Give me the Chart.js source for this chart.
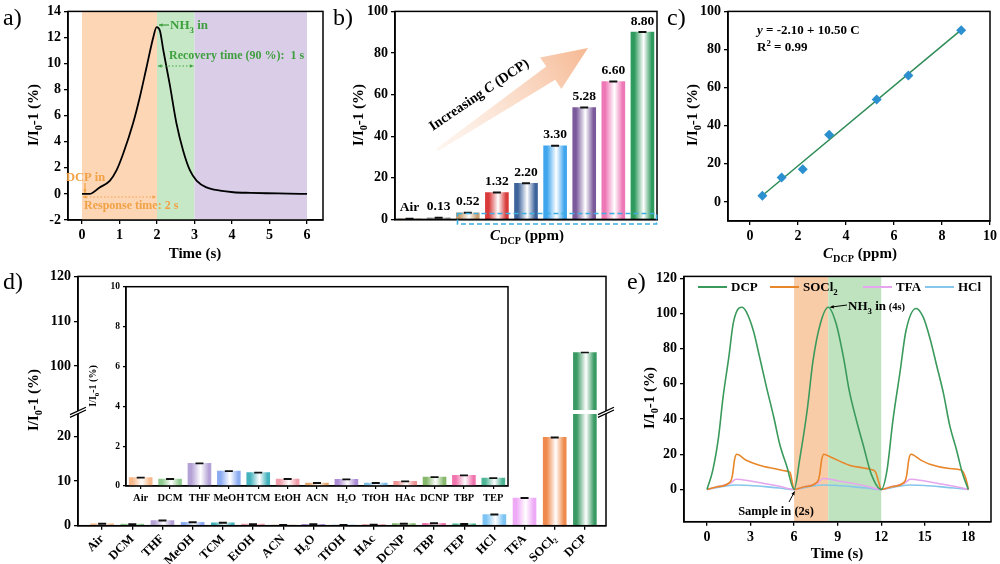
<!DOCTYPE html>
<html>
<head>
<meta charset="utf-8">
<script src="https://cdn.jsdelivr.net/npm/chart.js@4.4.1/dist/chart.umd.min.js"></script>
<style>
body{margin:0;background:#fff;}
#wrap{position:relative;width:1000px;height:564px;overflow:hidden;background:#fff;}
#wrap canvas{position:absolute;}
</style>
</head>
<body>
<div id="wrap"></div>
<script>
// ---- panel a: response / recovery curve
const aTime = [0, 0.2, 0.47, 0.74, 0.92, 1.1, 1.36, 1.54, 1.72, 1.9, 1.99, 2.08, 2.17, 2.34, 2.52, 2.7, 2.88, 3.06, 3.32, 3.68, 4.04, 4.5, 4.93, 5.5, 6];
const aSignal = [0, 0, 0.5, 1.0, 1.8, 3.1, 5.4, 7.4, 9.7, 12.0, 12.8, 12.5, 11.0, 8.4, 5.4, 3.3, 1.8, 1.0, 0.5, 0.25, 0.13, 0.08, 0.05, 0.03, 0];
const aXTicks = [0, 1, 2, 3, 4, 5, 6];
const aYTicks = [-2, 0, 2, 4, 6, 8, 10, 12, 14];
const aZones = [0, 2, 3, 6];
const aZoneColors = ['#fdd6b6', '#c6e8c6', '#d9cde8'];

// ---- panel b: concentration bars
const bLabels = ['Air', '0.13', '0.52', '1.32', '2.20', '3.30', '5.28', '6.60', '8.80'];
const bValues = [0.3, 0.8, 3.2, 12.9, 17.4, 35.4, 53.8, 66.3, 90.1];
const bColors = ['#c9a27e', '#9a9a9a', '#c9a070', '#d93a3a', '#3d639b', '#3fa6ee', '#7b5a9c', '#ee78b6', '#2f9a5e'];
const bYTicks = [0, 20, 40, 60, 80, 100];

// ---- panel c: linear fit
const cConc = [0.52, 1.32, 2.20, 3.30, 5.28, 6.60, 8.80];
const cResp = [3.2, 12.8, 17.1, 35.3, 53.7, 66.3, 90.1];
const cFitX = [0.52, 8.80];
const cFitY = [3.36, 90.30];
const cXTicks = [0, 2, 4, 6, 8, 10];
const cYTicks = [0, 20, 40, 60, 80, 100];

// ---- panel d: selectivity
const dCats = ['Air', 'DCM', 'THF', 'MeOH', 'TCM', 'EtOH', 'ACN', 'H₂O', 'TfOH', 'HAc', 'DCNP', 'TBP', 'TEP', 'HCl', 'TFA', 'SOCl₂', 'DCP'];
const dValues = [0.42, 0.35, 1.14, 0.75, 0.67, 0.35, 0.15, 0.33, 0.15, 0.23, 0.45, 0.53, 0.40, 2.5, 6.2, 19.8, 103.0];
const dColors = ['#f7b98b', '#8fcb8f', '#b4a2d6', '#8cacf2', '#45b3bd', '#f19cab', '#e6a66c', '#ad8cd6', '#7dbde6', '#ee9494', '#86b86c', '#f075ae', '#4db596', '#7cc4f4', '#eeaaf6', '#f08a4c', '#3a9a64'];
const dLowTicks = [0, 10, 20];
const dHighTicks = [100, 110, 120];
const insetCount = 13;
const insetTicks = [0, 2, 4, 6, 8, 10];

// ---- panel e: cycling
const eDcpT = [0, 0.4, 0.8, 1.1, 1.5, 1.8, 2.1, 2.4, 2.7, 3.2, 3.6, 4.1, 4.6, 5.0, 5.5, 6.0,
  6.4, 6.9, 7.3, 7.8, 8.35, 8.9, 9.4, 9.8, 10.3, 10.8, 11.3, 12.0,
  12.4, 12.8, 13.3, 13.7, 14.4, 14.9, 15.35, 15.8, 16.3, 16.7, 17.2, 17.6, 18.0];
const eDcpV = [0, 11, 30, 52, 75, 94, 102, 103.5, 101, 90, 76, 58, 41, 26, 13, 0,
  18, 45, 73, 94, 103.5, 94, 75, 56, 39, 24, 9, 0,
  11, 39, 67, 90, 102.8, 97.7, 86, 71, 54, 37, 22, 9, 0];
const eSoclT = [0, 0.7, 1.6, 1.75, 1.9, 2.05, 2.7, 3.6, 4.6, 5.5, 5.72, 5.85, 6.0,
  6.7, 7.6, 7.75, 7.9, 8.05, 8.5, 9.8, 10.8, 11.3, 11.6, 11.8, 12.0,
  12.7, 13.6, 13.75, 13.9, 14.05, 14.7, 15.35, 16.7, 17.5, 17.75, 17.9, 18.0];
const eSoclV = [0, 1.5, 4.3, 8, 17, 20, 16.6, 13.8, 11.9, 10.4, 9.8, 5, 0,
  1.5, 4.3, 8, 17, 20, 18.5, 13.8, 12.2, 11.3, 10, 5, 0,
  1.5, 4.3, 8, 17, 20, 16.8, 14.3, 11.9, 11, 8, 4, 0];
const eTfaT = [0, 0.8, 1.6, 2.0, 3.0, 4.0, 5.0, 6.0, 6.8, 7.6, 8.0, 9.0, 10.0, 11.0, 12.0, 12.8, 13.6, 14.0, 15.0, 16.0, 17.0, 18.0];
const eTfaV = [0, 1.8, 3.5, 5.8, 4.8, 3.3, 1.8, 0, 1.8, 3.5, 6.2, 5.0, 3.5, 1.8, 0, 1.8, 3.5, 5.8, 4.8, 3.3, 1.8, 0];
const eHclT = [0, 1, 2, 3, 4, 5, 6, 7, 8, 9, 10, 11, 12, 13, 14, 15, 16, 17, 18];
const eHclV = [0, 1.5, 2.5, 2.3, 1.6, 0.8, 0, 1.5, 2.5, 2.3, 1.6, 0.8, 0, 1.5, 2.5, 2.3, 1.6, 0.8, 0];
const eNames = ['DCP', 'SOCl₂', 'TFA', 'HCl'];
const eColors = ['#3a9a5c', '#e8862a', '#e6a6ee', '#86c6ea'];
const eXTicks = [0, 3, 6, 9, 12, 15, 18];
const eYTicks = [0, 20, 40, 60, 80, 100, 120];
const eZones = [6, 8.35, 12];
const eZoneColors = ['#f9cca8', '#bfe3bf'];

const FONT = '"Liberation Serif", "Times New Roman", serif';
Chart.defaults.font.family = FONT;
Chart.defaults.font.size = 14;
Chart.defaults.font.weight = 'bold';
Chart.defaults.color = '#000';
Chart.defaults.animation = false;
Chart.defaults.events = [];
Chart.defaults.plugins.legend.display = false;
Chart.defaults.plugins.tooltip.enabled = false;

function mk(L, T, W, H) {
  const c = document.createElement('canvas');
  c.width = W; c.height = H;
  c.style.left = L + 'px'; c.style.top = T + 'px';
  c.style.width = W + 'px'; c.style.height = H + 'px';
  document.getElementById('wrap').appendChild(c);
  return c;
}

function pts(xs, ys) {
  return xs.map((x, i) => ({x: x, y: ys[i]}));
}

function lin(min, max, ticks, fit, extra) {
  return Object.assign({
    type: 'linear', min: min, max: max,
    afterBuildTicks: s => { s.ticks = ticks.map(v => ({value: v})); },
    afterFit: fit,
    ticks: {padding: 3, autoSkip: false, maxRotation: 0},
    grid: {drawOnChartArea: false, tickLength: 4, color: '#000', lineWidth: 1.3},
    border: {color: '#000', width: 1.5}
  }, extra || {});
}

// text with sub/superscripts, y = vertical middle
function rich(c, parts, x, y, size, opt) {
  opt = opt || {};
  c.save();
  c.translate(x, y);
  if (opt.rot) c.rotate(opt.rot);
  c.fillStyle = opt.color || '#000';
  c.textAlign = 'left';
  c.textBaseline = 'alphabetic';
  const fontOf = p => (p.i ? 'italic ' : '') + (p.n ? 'normal ' : 'bold ') +
    (p.sub || p.sup ? size * 0.68 : (p.size || size)) + 'px ' + FONT;
  let w = 0;
  parts.forEach(p => { c.font = fontOf(p); w += c.measureText(p.t).width; });
  let cx = opt.align === 'center' ? -w / 2 : opt.align === 'right' ? -w : 0;
  parts.forEach(p => {
    c.font = fontOf(p);
    const dy = p.sub ? size * 0.28 : p.sup ? -size * 0.38 : 0;
    c.fillText(p.t, cx, size * 0.34 + dy);
    cx += c.measureText(p.t).width;
  });
  c.restore();
}

function arrow(c, x1, y1, x2, y2, col, opt) {
  opt = opt || {};
  c.save();
  c.strokeStyle = col; c.fillStyle = col; c.lineWidth = opt.w || 1.2;
  if (opt.dash) c.setLineDash(opt.dash);
  c.beginPath(); c.moveTo(x1, y1); c.lineTo(x2, y2); c.stroke();
  c.setLineDash([]);
  const h = opt.h || 5;
  const head = (xa, ya, xb, yb) => {
    const ang = Math.atan2(yb - ya, xb - xa);
    c.beginPath();
    c.moveTo(xb, yb);
    c.lineTo(xb - h * Math.cos(ang - 0.45), yb - h * Math.sin(ang - 0.45));
    c.lineTo(xb - h * Math.cos(ang + 0.45), yb - h * Math.sin(ang + 0.45));
    c.closePath(); c.fill();
  };
  head(x1, y1, x2, y2);
  if (opt.both) head(x2, y2, x1, y1);
  c.restore();
}

const YT = [{t: 'I/I'}, {t: '0', sub: 1}, {t: '-1 (%)'}];
const CT = [{t: 'C', i: 1}, {t: 'DCP', sub: 1}, {t: ' (ppm)'}];

function grad(colors, width) {
  return ctx => {
    const ch = ctx.chart, xs = ch.scales.x;
    const i = (ctx.raw && typeof ctx.raw === 'object') ? ctx.raw.x : ctx.dataIndex;
    const col = colors[i] || colors[0];
    if (!xs || i === undefined) return col;
    const cx = xs.getPixelForValue(i);
    if (!isFinite(cx)) return col;
    const g = ch.ctx.createLinearGradient(cx - width / 2, 0, cx + width / 2, 0);
    g.addColorStop(0, col);
    g.addColorStop(0.15, col);
    g.addColorStop(0.55, '#ffffff');
    g.addColorStop(0.9, col);
    g.addColorStop(1, col);
    return g;
  };
}

const frame = {
  id: 'frame',
  afterDatasetsDraw(ch) {
    const a = ch.chartArea, c = ch.ctx;
    c.save();
    c.strokeStyle = '#000'; c.lineWidth = 1.5;
    c.strokeRect(a.left, a.top, a.right - a.left, a.bottom - a.top);
    c.restore();
  }
};

function zones(id, bounds, colors) {
  return {
    id: id,
    beforeDatasetsDraw(ch) {
      const a = ch.chartArea, c = ch.ctx, xs = ch.scales.x;
      c.save();
      for (let k = 0; k < colors.length; k++) {
        const x1 = xs.getPixelForValue(bounds[k]), x2 = xs.getPixelForValue(bounds[k + 1]);
        c.fillStyle = colors[k];
        c.fillRect(x1, a.top, x2 - x1, a.bottom - a.top);
      }
      c.restore();
    }
  };
}

// ================= panel a
const annotA = {
  id: 'annotA',
  afterDatasetsDraw(ch) {
    const c = ch.ctx, xs = ch.scales.x, ys = ch.scales.y;
    const green = '#3f9f3f', orange = '#f2a246';
    arrow(c, 169, 25, xs.getPixelForValue(2) + 2, 25, green, {h: 4});
    rich(c, [{t: 'NH'}, {t: '3', sub: 1}, {t: ' in'}], 170, 25, 13, {color: green});
    rich(c, [{t: 'Recovery time (90 %):  1 s'}], 169, 55, 12, {color: green});
    arrow(c, xs.getPixelForValue(2) + 1, 66, xs.getPixelForValue(3) - 1, 66, green, {dash: [1.5, 2], both: true, h: 4});
    rich(c, [{t: 'DCP in'}], 66, 177, 12.5, {color: orange});
    arrow(c, 85, 183, 85, ys.getPixelForValue(0) - 1, orange, {h: 4});
    arrow(c, xs.getPixelForValue(0) + 1, 197, xs.getPixelForValue(2) - 1, 197, orange, {dash: [1.5, 2], both: true, h: 4});
    rich(c, [{t: 'Response time: 2 s'}], 84, 205, 12, {color: orange});
    rich(c, [{t: 'Time (s)'}], 195, 253, 15, {align: 'center'});
    rich(c, YT, 33, 115, 15, {align: 'center', rot: -Math.PI / 2});
    rich(c, [{t: 'a)', n: 1}], 3, 17, 24);
  }
};

new Chart(mk(0, 0, 330, 265), {
  type: 'line',
  data: {datasets: [{
    data: pts(aTime, aSignal), borderColor: '#000', borderWidth: 1.8,
    pointRadius: 0, cubicInterpolationMode: 'monotone', fill: false
  }]},
  options: {
    responsive: false,
    layout: {padding: {top: 10, right: 7, left: 0, bottom: 0}},
    scales: {
      x: lin(-0.373, 6.427, aXTicks, s => { s.height = 45; }),
      y: lin(-2, 14, aYTicks, s => { s.width = 68; })
    }
  },
  plugins: [zones('zonesA', aZones, aZoneColors), frame, annotA]
});

// ================= panel b
const annotB = {
  id: 'annotB',
  afterDatasetsDraw(ch) {
    const c = ch.ctx, meta = ch.getDatasetMeta(0);
    meta.data.forEach((bar, i) => {
      rich(c, [{t: bLabels[i]}], bar.x, bar.y - 12, 13.5, {align: 'center'});
    });
    // dashed box around the low bars
    c.save();
    c.strokeStyle = '#3aaee0'; c.lineWidth = 1.6; c.setLineDash([5, 3]);
    c.strokeRect(127.5, 213.5, 199, 10.5);
    c.restore();
    // big arrow
    const tail = [107, 150], tip = [258, 48];
    const dx = tip[0] - tail[0], dy = tip[1] - tail[1], L = Math.hypot(dx, dy);
    const u = [dx / L, dy / L], n = [-u[1], u[0]];
    const hb = [tip[0] - u[0] * 45, tip[1] - u[1] * 45];
    const P = (p, k) => [p[0] + n[0] * k, p[1] + n[1] * k];
    const poly = [P(tail, 1.5), P(hb, 8), P(hb, 19), tip, P(hb, -19), P(hb, -8), P(tail, -1.5)];
    c.save();
    const g = c.createLinearGradient(tail[0], tail[1], tip[0], tip[1]);
    g.addColorStop(0, 'rgba(252,232,218,0.4)');
    g.addColorStop(1, '#f6b892');
    c.fillStyle = g;
    c.beginPath();
    poly.forEach((p, k) => k ? c.lineTo(p[0], p[1]) : c.moveTo(p[0], p[1]));
    c.closePath(); c.fill();
    c.restore();
    rich(c, [{t: 'Increasing '}, {t: 'C', i: 1}, {t: ' (DCP)'}], 100, 127, 14, {rot: Math.atan2(dy, dx)});
    rich(c, CT, 197, 235, 15, {align: 'center'});
    rich(c, YT, 28, 115, 15, {align: 'center', rot: -Math.PI / 2});
    rich(c, [{t: 'b)', n: 1}], 3, 17, 24);
  }
};

new Chart(mk(330, 0, 335, 265), {
  type: 'bar',
  data: {
    labels: bLabels,
    datasets: [
      {data: bValues, backgroundColor: grad(bColors, 23), barThickness: 23, borderWidth: 0, order: 2},
      {type: 'scatter', data: bValues, pointStyle: 'line', pointRadius: 4, borderColor: '#111', borderWidth: 2, order: 1}
    ]
  },
  options: {
    responsive: false,
    layout: {padding: {top: 10, right: 8, left: 0, bottom: 0}},
    scales: {
      x: {
        type: 'category', offset: true,
        afterFit: s => { s.height = 45.6; },
        ticks: {display: false},
        grid: {display: false},
        border: {color: '#000', width: 1.5}
      },
      y: lin(0, 100, bYTicks, s => { s.width = 65; })
    }
  },
  plugins: [frame, annotB]
});

// ================= panel c
const annotC = {
  id: 'annotC',
  afterDatasetsDraw(ch) {
    const c = ch.ctx;
    rich(c, [{t: 'y', i: 1}, {t: ' = -2.10 + 10.50 C'}], 92, 30, 13);
    rich(c, [{t: 'R'}, {t: '2', sup: 1}, {t: ' = 0.99'}], 92, 47, 13);
    rich(c, CT, 195, 253, 15, {align: 'center'});
    rich(c, YT, 27, 115, 15, {align: 'center', rot: -Math.PI / 2});
    rich(c, [{t: 'c)', n: 1}], 2, 17, 24);
  }
};

new Chart(mk(665, 0, 335, 265), {
  type: 'scatter',
  data: {datasets: [
    {data: pts(cConc, cResp), pointStyle: 'rectRot', pointRadius: 5, backgroundColor: '#2b8fd0', borderWidth: 0, order: 1},
    {type: 'line', data: pts(cFitX, cFitY), borderColor: '#2e8b57', borderWidth: 1.5, pointRadius: 0, fill: false, order: 2}
  ]},
  options: {
    responsive: false,
    layout: {padding: {top: 10, right: 9, left: 0, bottom: 0}},
    scales: {
      x: lin(-0.913, 10, cXTicks, s => { s.height = 44; }),
      y: lin(-10, 100, cYTicks, s => { s.width = 63; })
    }
  },
  plugins: [frame, annotC]
});

// ================= panel d
const dLowMax = 25.5, dHighMin = 89.7;
const annotD = {
  id: 'annotD',
  afterDraw(ch) {
    const c = ch.ctx, a = ch.chartArea;
    const yb = ch.scales.y.getPixelForValue(dLowMax);
    c.save();
    [a.left, a.right].forEach(x0 => {
      c.fillStyle = '#fff';
      c.beginPath();
      c.moveTo(x0 - 8, yb + 2.6); c.lineTo(x0 + 8, yb - 4.8);
      c.lineTo(x0 + 8, yb - 2); c.lineTo(x0 - 8, yb + 5.4);
      c.closePath(); c.fill();
      c.strokeStyle = '#000'; c.lineWidth = 1.3;
      c.beginPath();
      c.moveTo(x0 - 8, yb + 2.6); c.lineTo(x0 + 8, yb - 4.8);
      c.moveTo(x0 - 8, yb + 5.4); c.lineTo(x0 + 8, yb - 2);
      c.stroke();
    });
    c.restore();
    rich(c, YT, 33, 135, 15, {align: 'center', rot: -Math.PI / 2});
    rich(c, [{t: 'd)', n: 1}], 3, 16, 24);
  }
};

const dLow = dValues.map((v, i) => ({x: i, y: Math.min(v, dLowMax - 0.5)}));
const dHigh = [];
dValues.forEach((v, i) => { if (v > dLowMax) dHigh.push({x: i, y: [dHighMin + 0.5, v]}); });
const dCapLow = [];
const dCapHigh = [];
dValues.forEach((v, i) => { (v > dLowMax ? dCapHigh : dCapLow).push({x: i, y: v}); });

new Chart(mk(0, 265, 620, 299), {
  type: 'bar',
  data: {datasets: [
    {data: dLow, yAxisID: 'y', backgroundColor: grad(dColors, 23), barThickness: 23, grouped: false, borderWidth: 0, order: 3},
    {data: dHigh, yAxisID: 'y2', backgroundColor: grad(dColors, 23), barThickness: 23, grouped: false, borderWidth: 0, order: 3},
    {type: 'scatter', data: dCapLow, yAxisID: 'y', pointStyle: 'line', pointRadius: 4, borderColor: '#111', borderWidth: 2, order: 1},
    {type: 'scatter', data: dCapHigh, yAxisID: 'y2', pointStyle: 'line', pointRadius: 4, borderColor: '#111', borderWidth: 1.5, order: 1}
  ]},
  options: {
    responsive: false,
    layout: {padding: {top: 10.7, right: 14, left: 0, bottom: 0}},
    scales: {
      x: lin(-0.8, 16.7, dCats.map((_, i) => i), s => { s.height = 38.3; }, {
        offset: false,
        ticks: {callback: v => dCats[v], minRotation: 45, maxRotation: 45, autoSkip: false, padding: 2, font: {size: 12.5}},
        grid: {drawOnChartArea: false, offset: false, tickLength: 4, color: '#000', lineWidth: 1.3}
      }),
      y: lin(0, dLowMax, dLowTicks, s => { s.width = 78; }, {stack: 'd', stackWeight: 114, position: 'left'}),
      y2: lin(dHighMin, 120, dHighTicks, s => { s.width = 78; }, {stack: 'd', stackWeight: 136, position: 'left'})
    }
  },
  plugins: [frame, annotD]
});

// inset of panel d
const annotInset = {
  id: 'annotInset',
  afterDatasetsDraw(ch) {
    rich(ch.ctx, YT, 13, 110, 10, {align: 'center', rot: -Math.PI / 2});
  }
};

new Chart(mk(80, 276, 440, 236), {
  type: 'bar',
  data: {
    labels: dCats.slice(0, insetCount),
    datasets: [
      {data: dValues.slice(0, insetCount), backgroundColor: grad(dColors, 23), barThickness: 23, borderWidth: 0, order: 2},
      {type: 'scatter', data: dValues.slice(0, insetCount), pointStyle: 'line', pointRadius: 4, borderColor: '#111', borderWidth: 1.8, order: 1}
    ]
  },
  options: {
    responsive: false,
    layout: {padding: {top: 10.7, right: 12, left: 0, bottom: 0}},
    scales: {
      x: {
        type: 'category', offset: true,
        afterFit: s => { s.height = 26; },
        ticks: {font: {size: 10.5}, padding: 3, autoSkip: false, maxRotation: 0},
        grid: {drawOnChartArea: false, offset: false, tickLength: 3, color: '#000', lineWidth: 1.2},
        border: {color: '#000', width: 1.3}
      },
      y: lin(0, 10, insetTicks, s => { s.width = 46; }, {
        ticks: {font: {size: 9.5}, padding: 3, autoSkip: false, maxRotation: 0},
        grid: {drawOnChartArea: false, tickLength: 3, color: '#000', lineWidth: 1.2},
        border: {color: '#000', width: 1.3}
      })
    }
  },
  plugins: [frame, annotInset]
});

// ================= panel e
const annotE = {
  id: 'annotE',
  afterDatasetsDraw(ch) {
    const c = ch.ctx, xs = ch.scales.x, ys = ch.scales.y;
    // legend
    const lx = [78, 150, 243, 305];
    c.save();
    eNames.forEach((nm, k) => {
      c.strokeStyle = eColors[k]; c.lineWidth = 2;
      c.beginPath(); c.moveTo(lx[k], 22); c.lineTo(lx[k] + 29, 22); c.stroke();
      rich(c, nm === 'SOCl₂' ? [{t: 'SOCl'}, {t: '2', sub: 1}] : [{t: nm}], lx[k] + 33, 22, 13);
    });
    c.restore();
    // peak annotation
    arrow(c, 227, 40, xs.getPixelForValue(8.35) + 2, ys.getPixelForValue(103.5), '#000', {h: 4, w: 1});
    rich(c, [{t: 'NH'}, {t: '3', sub: 1}, {t: ' in'}, {t: ' (4s)', size: 10.5}], 228, 41, 13);
    arrow(c, 169, 237, xs.getPixelForValue(6) + 0.5, ys.getPixelForValue(0) + 2, '#000', {h: 4, w: 1});
    rich(c, [{t: 'Sample in (2s)'}], 156, 246, 12.5, {align: 'center'});
    rich(c, [{t: 'Time (s)'}], 217, 288, 15, {align: 'center'});
    rich(c, YT, 29, 133, 15, {align: 'center', rot: -Math.PI / 2});
    rich(c, [{t: 'e)', n: 1}], 7, 16, 24);
  }
};

new Chart(mk(620, 265, 380, 299), {
  type: 'line',
  data: {datasets: [
    {data: pts(eDcpT, eDcpV), borderColor: eColors[0]},
    {data: pts(eSoclT, eSoclV), borderColor: eColors[1]},
    {data: pts(eTfaT, eTfaV), borderColor: eColors[2]},
    {data: pts(eHclT, eHclV), borderColor: eColors[3]}
  ].map(d => Object.assign(d, {borderWidth: 1.6, pointRadius: 0, fill: false, cubicInterpolationMode: 'monotone'}))},
  options: {
    responsive: false,
    layout: {padding: {top: 10.7, right: 9, left: 0, bottom: 0}},
    scales: {
      x: lin(-1.584, 19.56, eXTicks, s => { s.height = 42.3; }),
      y: lin(-18.3, 121, eYTicks, s => { s.width = 64; })
    }
  },
  plugins: [zones('zonesE', eZones, eZoneColors), frame, annotE]
});
</script>
</body>
</html>
